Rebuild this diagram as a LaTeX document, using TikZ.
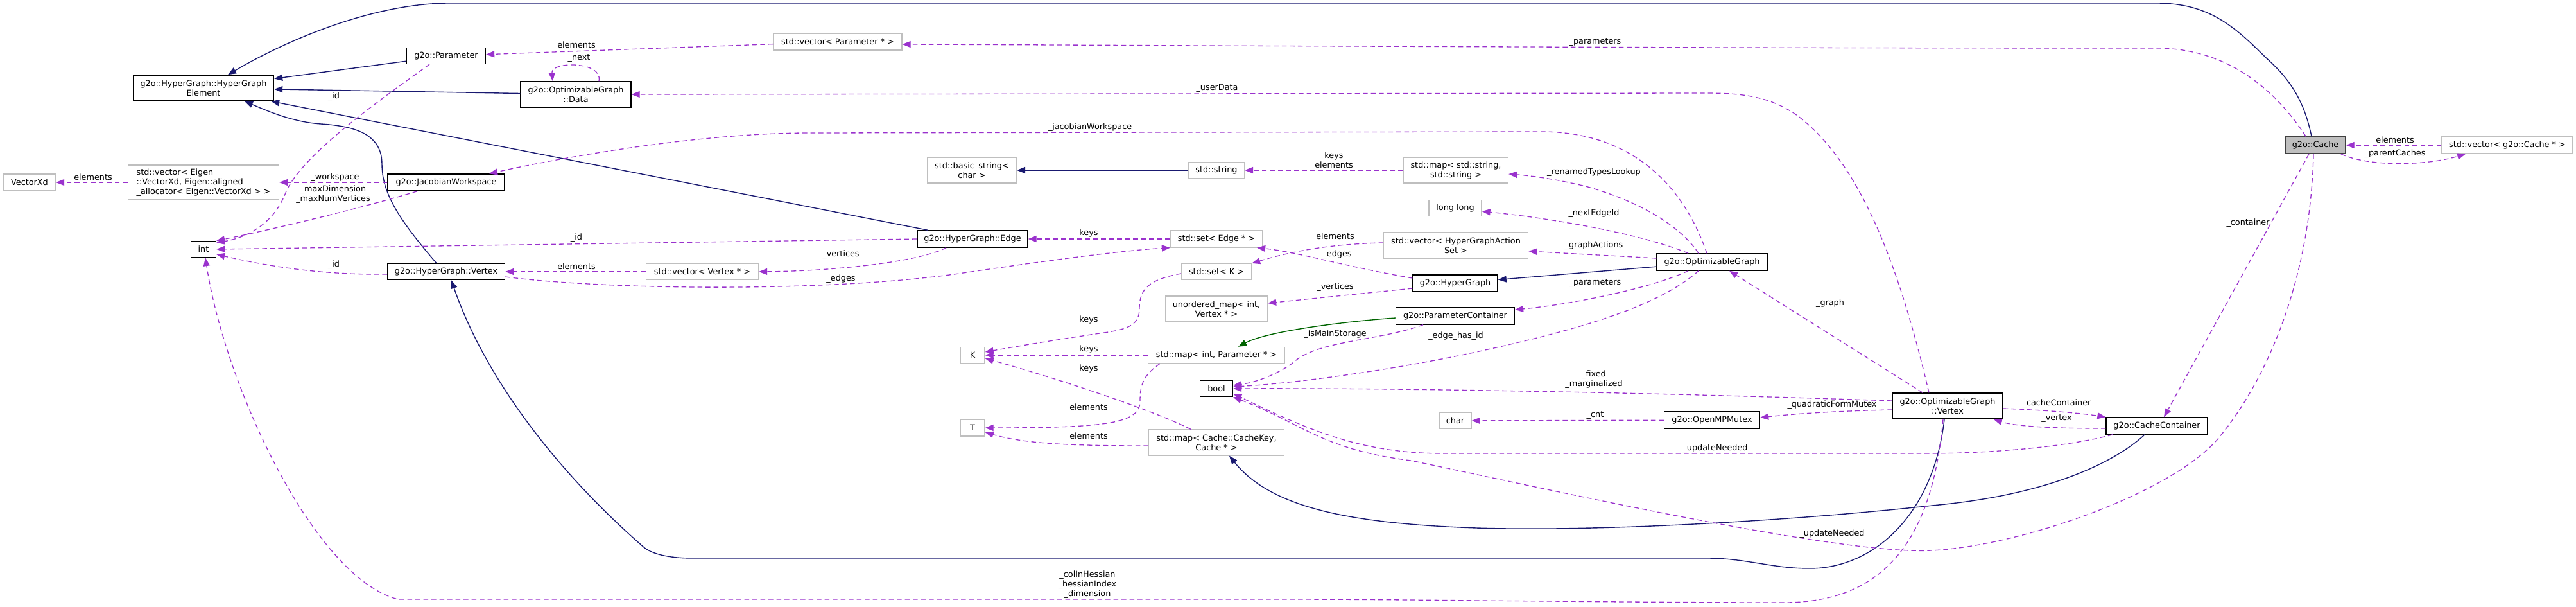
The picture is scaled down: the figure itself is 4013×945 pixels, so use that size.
\documentclass[tikz,border=0pt]{standalone}
\usepackage{fontspec}
\setmainfont{DejaVu Sans}
\usetikzlibrary{arrows.meta}
\definecolor{navyc}{HTML}{191970}
\definecolor{purp}{HTML}{9A32CD}
\definecolor{dgreen}{HTML}{006400}
\definecolor{greyb}{HTML}{BFBFBF}
\definecolor{darkb}{HTML}{404040}
\begin{document}
\begin{tikzpicture}[x=1pt,y=-1pt,font=\fontsize{12.8}{15}\selectfont,
  wh/.style 2 args={minimum width=#1pt,minimum height=#2pt},
  cls/.style={draw=black,line width=1.4pt,fill=white,inner sep=0pt,align=center},
  ext/.style={draw=greyb,line width=1.3pt,fill=white,inner sep=0pt,align=center},
  inh/.style={draw=navyc,line width=1.4pt,-{Triangle[length=13pt,width=10pt]}},
  use/.style={draw=purp,line width=1.3pt,dash pattern=on 7.5pt off 5pt,-{Triangle[length=13pt,width=10pt]}},
  lbl/.style={inner sep=0pt,align=center}]
\path[use as bounding box] (0,0) rectangle (4013,945);

% nodes
\node[cls,wh={219}{40}] (elem) at (317,137) {g2o::HyperGraph::HyperGraph\\Element};
\node[cls,wh={123}{25}] (param) at (695,87) {g2o::Parameter};
\node[cls,wh={172}{40}] (data) at (897,147) {g2o::OptimizableGraph\\::Data};
\node[ext,wh={81}{26}] (vxd) at (46,284) {VectorXd};
\node[ext,wh={235}{54},align=left] (eigvec) at (317,284) {std::vector< Eigen\\::VectorXd, Eigen::aligned\\\_allocator< Eigen::VectorXd > >};
\node[cls,wh={182}{26}] (jws) at (695,284) {g2o::JacobianWorkspace};
\node[cls,wh={39}{25}] (int) at (317,388) {int};
\node[cls,wh={183}{25}] (hgv) at (695,423) {g2o::HyperGraph::Vertex};
\node[ext,wh={200}{26}] (pvec) at (1305,65) {std::vector< Parameter * >};
\node[ext,wh={139}{40}] (bstr) at (1514,265) {std::basic\_string<\\char >};
\node[ext,wh={87}{25}] (sstr) at (1895,265) {std::string};
\node[cls,wh={172}{26}] (hge) at (1515,372) {g2o::HyperGraph::Edge};
\node[ext,wh={175}{25}] (vvec) at (1094,423) {std::vector< Vertex * >};
\node[ext,wh={143}{26}] (sete) at (1895,372) {std::set< Edge * >};
\node[ext,wh={109}{25}] (setk) at (1895,423) {std::set< K >};
\node[ext,wh={159}{40}] (umap) at (1895,481) {unordered\_map< int,\\Vertex * >};
\node[ext,wh={38}{25}] (K) at (1515,553) {K};
\node[ext,wh={213}{25}] (mip) at (1895,553) {std::map< int, Parameter * >};
\node[cls,wh={51}{25}] (bool) at (1895,605) {bool};
\node[ext,wh={38}{26}] (T) at (1515,666) {T};
\node[ext,wh={211}{40}] (mcache) at (1895,689) {std::map< Cache::CacheKey,\\Cache * >};
\node[ext,wh={163}{40}] (mstr) at (2268,265) {std::map< std::string,\\std::string >};
\node[ext,wh={82}{25}] (ll) at (2267,324) {long long};
\node[ext,wh={225}{40}] (hga) at (2268,382) {std::vector< HyperGraphAction\\Set >};
\node[cls,wh={172}{26}] (og) at (2667,408) {g2o::OptimizableGraph};
\node[cls,wh={132}{26}] (hg) at (2267,441) {g2o::HyperGraph};
\node[cls,wh={185}{26}] (pc) at (2267,492) {g2o::ParameterContainer};
\node[ext,wh={50}{25}] (char) at (2267,655) {char};
\node[cls,wh={149}{26}] (mutex) at (2667,654) {g2o::OpenMPMutex};
\node[cls,wh={172}{40}] (ogv) at (3034,632) {g2o::OptimizableGraph\\::Vertex};
\node[cls,wh={158}{26}] (cc) at (3360,663) {g2o::CacheContainer};
\node[cls,wh={94}{26},fill=greyb,draw=darkb] (cache) at (3607,226) {g2o::Cache};
\node[ext,wh={204}{26}] (cvec) at (3906,226) {std::vector< g2o::Cache * >};

% inheritance
\draw[inh] ([xshift=-6pt]cache.north) .. controls (3590,160) and (3570,125) .. (3530,90) .. controls (3480,40) and (3440,5) .. (3360,5) -- (700,5) .. controls (590,5) and (460,55) .. ([xshift=38pt]elem.north);
\draw[inh] (param) -- (elem);
\draw[inh] (data) -- (elem);
\draw[inh] (hge) -- (elem);
\draw[inh] ([xshift=-15pt]hgv.north) .. controls (620,340) and (595,300) .. (595,255) .. controls (595,205) and (545,196) .. (500,193) .. controls (455,190) and (415,172) .. ([xshift=64pt]elem.south);
\draw[inh] (sstr) -- (bstr);
\draw[inh] (og) -- (hg);
\draw[inh,draw=dgreen] ([yshift=-3pt]pc.west) .. controls (2100,500) and (1975,515) .. ([xshift=34pt]mip.north);
\draw[inh] ([xshift=-19pt]cc.south) .. controls (3300,715) and (3200,770) .. (3010,787) .. controls (2800,810) and (2500,828) .. (2300,822) .. controls (2100,815) and (1980,790) .. ([xshift=20pt]mcache.south);
\draw[inh] ([xshift=-5pt]ogv.south) .. controls (3012,800) and (2920,885) .. (2819,885) .. controls (2760,885) and (2720,869) .. (2660,869) -- (1080,869) .. controls (1040,869) and (1015,862) .. (1003,852) .. controls (880,745) and (760,600) .. ([xshift=8pt]hgv.south);

% usage
\draw[use] (pvec) -- (param);
\draw[use] ([xshift=-15pt]cache.north) .. controls (3545,140) and (3470,75) .. (3360,75) .. controls (2600,75) and (1700,70) .. ([yshift=-4pt]pvec.east);
\draw[use] ([xshift=36pt]data.north) .. controls (940,95) and (858,95) .. ([xshift=-36pt]data.north);
\draw[use] ([xshift=-29pt]ogv.north) .. controls (2960,420) and (2900,255) .. (2800,180) .. controls (2760,152) and (2720,145) .. (2660,145) -- (data.east);
\draw[use] ([xshift=-8pt]og.north) .. controls (2630,310) and (2560,205) .. (2400,205) -- (1260,207) .. controls (1100,207) and (900,240) .. ([xshift=67pt]jws.north);
\draw[use] (jws) -- (eigvec);
\draw[use] (eigvec) -- (vxd);
\draw[use] ([xshift=-45pt]jws.south) .. controls (560,325) and (420,358) .. (int.north east);
\draw[use] ([xshift=-26pt]param.south) .. controls (600,150) and (470,240) .. (445,300) .. controls (430,340) and (395,368) .. ([yshift=-3pt]int.north east);
\draw[use] (hge.west) -- (int.east);
\draw[use] ([yshift=-4pt]hgv.west) .. controls (500,428) and (420,415) .. ([yshift=-8pt]int.east);
\draw[use] ([xshift=-7pt]ogv.south) .. controls (3012,820) and (2950,938) .. (2780,938) .. controls (2500,938) and (2200,933) .. (2000,933) -- (620,933) .. controls (490,900) and (350,600) .. ([xshift=3pt]int.south);
\draw[use] ([xshift=-41pt]hge.south) .. controls (1430,408) and (1300,422) .. (vvec.east);
\draw[use] ([yshift=-8pt]hgv.east) .. controls (950,452) and (1300,455) .. (1500,425) .. controls (1650,403) and (1750,390) .. (sete.south west);
\draw[use] (vvec) -- (hgv);
\draw[use] (sete) -- (hge);
\draw[use] ([yshift=8pt]hg.west) .. controls (2100,416) and (2020,392) .. ([xshift=-9pt]sete.south east);
\draw[use] ([yshift=4pt]hga.west) .. controls (2060,380) and (2000,395) .. (setk.north east);
\draw[use] ([yshift=-3pt]setk.west) .. controls (1790,435) and (1775,450) .. (1775,480) .. controls (1775,505) and (1760,512) .. (1720,518) .. controls (1650,528) and (1580,540) .. ([yshift=5pt]K.east);
\draw[use] (mip) -- (K);
\draw[use] ([xshift=-40pt]mcache.north) .. controls (1800,640) and (1650,590) .. ([yshift=-5pt]K.east);
\draw[use] ([xshift=-88pt]mip.south) .. controls (1780,585) and (1776,600) .. (1776,625) .. controls (1776,660) and (1720,666) .. (T.east);
\draw[use] ([yshift=-5pt]mcache.west) .. controls (1680,694) and (1600,692) .. ([yshift=-7pt]T.east);
\draw[use] (mstr) -- (sstr);
\draw[use] ([xshift=-21pt]og.north) .. controls (2620,355) and (2560,315) .. (2470,290) .. controls (2420,278) and (2380,273) .. ([yshift=-6pt]mstr.east);
\draw[use] ([xshift=-37pt]og.north) .. controls (2560,365) and (2420,340) .. ([yshift=-5pt]ll.east);
\draw[use] ([yshift=6pt]og.west) -- ([yshift=-9pt]hga.east);
\draw[use] ([yshift=-8pt]hg.west) -- ([yshift=9pt]umap.east);
\draw[use] ([xshift=-37pt]og.south) .. controls (2570,450) and (2440,475) .. ([yshift=10pt]pc.east);
\draw[use] ([xshift=-50pt]pc.south) .. controls (2150,530) and (2060,530) .. (2020,560) .. controls (2000,578) and (1960,595) .. ([yshift=5pt]bool.east);
\draw[use] ([xshift=-21pt]og.south) .. controls (2580,480) and (2450,515) .. (2300,548) .. controls (2150,580) and (2000,598) .. ([yshift=3pt]bool.east);
\draw[use] ([yshift=8pt]ogv.west) .. controls (2600,612) and (2200,604) .. (bool.east);
\draw[use] ([yshift=-6pt]ogv.west) .. controls (2850,640) and (2790,645) .. ([yshift=4pt]mutex.east);
\draw[use] (mutex) -- (char);
\draw[use] ([xshift=-69pt]cc.south) .. controls (3220,696) and (3100,706) .. (3000,706) -- (2250,706) .. controls (2120,706) and (2040,670) .. ([yshift=-8pt]bool.east);
\draw[use] ([xshift=-3pt]cache.south) .. controls (3600,420) and (3540,580) .. (3457,681) .. controls (3387,766) and (3150,850) .. (3009,857) .. controls (2870,864) and (2450,770) .. (2198,717) .. controls (2060,700) and (2030,660) .. (bool.south east);
\draw[use] ([xshift=-39pt]ogv.north) -- ([xshift=27pt]og.south);
\draw[use] ([yshift=-4pt]ogv.east) .. controls (3180,638) and (3240,643) .. (cc.north west);
\draw[use] ([yshift=-4pt]cc.west) .. controls (3200,667) and (3140,664) .. ([xshift=-15pt]ogv.south east);
\draw[use] ([xshift=-10pt]cache.south) -- ([xshift=11pt]cc.north);
\draw[use] (cvec) -- (cache);
\draw[use] ([xshift=-8pt]cache.south east) .. controls (3690,260) and (3780,258) .. ([xshift=-65pt]cvec.south);

% labels
\node[lbl] (l1) at (898,70) {elements};
\node[lbl] (l2) at (902,91) {\_next};
\node[lbl] (l3) at (2485,66) {\_parameters};
\node[lbl] (l4) at (1896,137) {\_userData};
\node[lbl] (l5) at (1698,198) {\_jacobianWorkspace};
\node[lbl] (l6) at (520,150) {\_id};
\node[lbl] (l7) at (522,276) {\_workspace};
\node[lbl] (l8) at (145,276) {elements};
\node[lbl] (l9) at (519,303) {\_maxDimension\\\_maxNumVertices};
\node[lbl] (l10) at (898,370) {\_id};
\node[lbl] (l11) at (520,412) {\_id};
\node[lbl] (l12) at (898,415) {elements};
\node[lbl] (l13) at (1696,363) {keys};
\node[lbl] (l14) at (1310,396) {\_vertices};
\node[lbl] (l15) at (1310,434) {\_edges};
\node[lbl] (l16) at (2078,249) {keys\\elements};
\node[lbl] (l17) at (2483,268) {\_renamedTypesLookup};
\node[lbl] (l18) at (2483,332) {\_nextEdgeId};
\node[lbl] (l19) at (2080,368) {elements};
\node[lbl] (l20) at (2483,382) {\_graphActions};
\node[lbl] (l21) at (2083,396) {\_edges};
\node[lbl] (l22) at (2080,447) {\_vertices};
\node[lbl] (l23) at (2485,441) {\_parameters};
\node[lbl] (l24) at (2851,472) {\_graph};
\node[lbl] (l25) at (2080,520) {\_isMainStorage};
\node[lbl] (l26) at (2268,523) {\_edge\_has\_id};
\node[lbl] (l27) at (1696,498) {keys};
\node[lbl] (l28) at (1696,544) {keys};
\node[lbl] (l29) at (1696,574) {keys};
\node[lbl] (l30) at (1696,634) {elements};
\node[lbl] (l31) at (1696,679) {elements};
\node[lbl] (l32) at (2483,591) {\_fixed\\\_marginalized};
\node[lbl] (l33) at (2854,630) {\_quadraticFormMutex};
\node[lbl] (l34) at (2485,647) {\_cnt};
\node[lbl] (l35) at (2672,698) {\_updateNeeded};
\node[lbl] (l36) at (2854,831) {\_updateNeeded};
\node[lbl] (l37) at (1694,910) {\_colInHessian\\\_hessianIndex\\\_dimension};
\node[lbl] (l38) at (3204,628) {\_cacheContainer};
\node[lbl] (l39) at (3204,652) {\_vertex};
\node[lbl] (l40) at (3502,347) {\_container};
\node[lbl] (l41) at (3731,218) {elements};
\node[lbl] (l42) at (3731,239) {\_parentCaches};
\end{tikzpicture}
\end{document}
